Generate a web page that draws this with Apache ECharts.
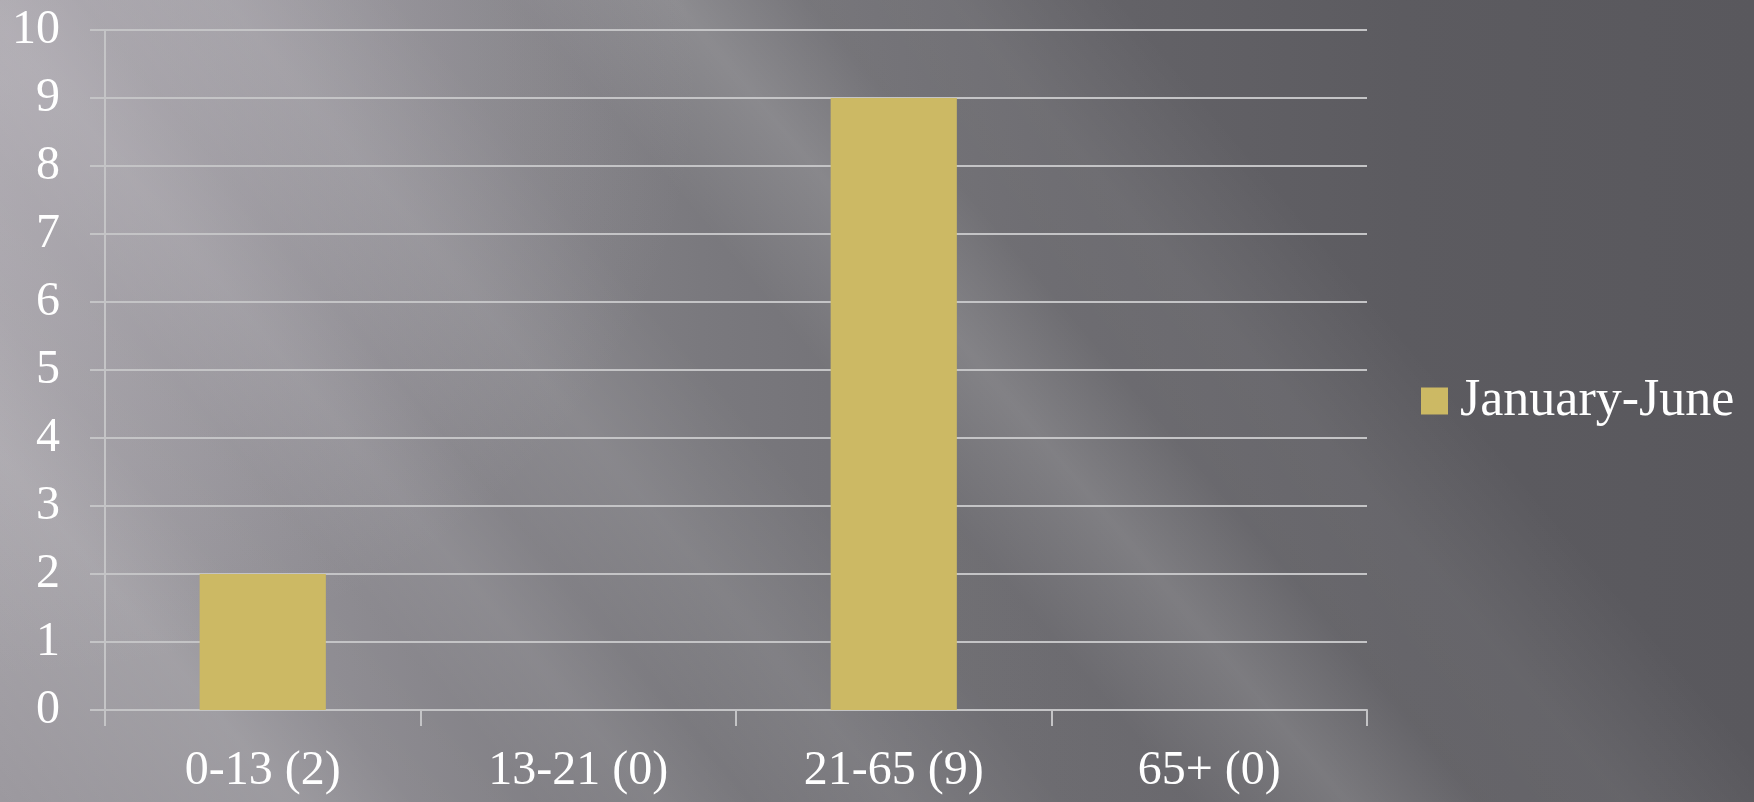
<!DOCTYPE html>
<html>
<head>
<meta charset="utf-8">
<script src="https://cdn.jsdelivr.net/npm/echarts@6/dist/echarts.min.js"></script>
<style>
html,body{margin:0;padding:0;}
#bg{position:absolute;left:0;top:0;width:1754px;height:802px;
background:
 radial-gradient(ellipse 700px 600px at 0px 80px, rgba(205,200,208,0.35), rgba(205,200,208,0) 100%),
 linear-gradient(50deg,
   rgba(255,255,255,0) 0%,
   rgba(255,255,255,0.10) 8%,
   rgba(255,255,255,0.15) 12%,
   rgba(255,255,255,0.06) 17%,
   rgba(255,255,255,0.04) 22%,
   rgba(255,255,255,0.10) 27%,
   rgba(255,255,255,0.05) 31%,
   rgba(255,255,255,0.12) 37%,
   rgba(255,255,255,0.05) 44%,
   rgba(255,255,255,0.05) 49%,
   rgba(255,255,255,0.18) 55.5%,
   rgba(255,255,255,0.06) 61%,
   rgba(255,255,255,0.07) 67%,
   rgba(255,255,255,0.0) 74%,
   rgba(255,255,255,0) 100%),
 linear-gradient(to right, #9c999f 0%, #88868c 20%, #737277 40%, #656469 60%, #5c5b60 80%, #59585d 100%);
}
#chart{position:absolute;left:0;top:0;width:1754px;height:802px;}
</style>
</head>
<body>
<div id="bg"></div>
<div id="chart"></div>
<script>
const categories = ['0-13 (2)', '13-21 (0)', '21-65 (9)', '65+ (0)'];
const seriesName = 'January-June';
const values = [2, 0, 9, 0];
const yMin = 0, yMax = 10, yInterval = 1;

const FONT = 'Liberation Serif';
const chart = echarts.init(document.getElementById('chart'), null, {renderer: 'canvas'});
chart.setOption({
  backgroundColor: 'transparent',
  animation: false,
  grid: {left: 105, right: 387, top: 30, bottom: 92, containLabel: false},
  legend: {
    data: [seriesName],
    orient: 'vertical',
    left: 1416,
    top: 'middle',
    icon: 'rect',
    itemWidth: 27,
    itemHeight: 27,
    textStyle: {color: '#ffffff', fontFamily: FONT, fontSize: 52, padding: [0, 0, 0, 7]}
  },
  xAxis: {
    type: 'category',
    data: categories,
    boundaryGap: true,
    axisLine: {show: true, lineStyle: {color: '#c4c4c6', width: 2}},
    axisTick: {show: true, length: 16, lineStyle: {color: '#c4c4c6', width: 2}},
    axisLabel: {color: '#ffffff', fontFamily: FONT, fontSize: 48, margin: 37, lineHeight: 48},
    splitLine: {show: false}
  },
  yAxis: {
    type: 'value',
    min: yMin, max: yMax, interval: yInterval,
    axisLine: {show: true, lineStyle: {color: '#c4c4c6', width: 2}},
    axisTick: {show: true, length: 15, lineStyle: {color: '#c4c4c6', width: 2}},
    axisLabel: {color: '#ffffff', fontFamily: FONT, fontSize: 48, margin: 45},
    splitLine: {show: true, lineStyle: {color: '#c4c4c6', width: 2}}
  },
  series: [{
    name: seriesName,
    type: 'bar',
    data: values,
    barWidth: '40%',
    itemStyle: {color: '#ccb964'}
  }]
});
</script>
</body>
</html>
